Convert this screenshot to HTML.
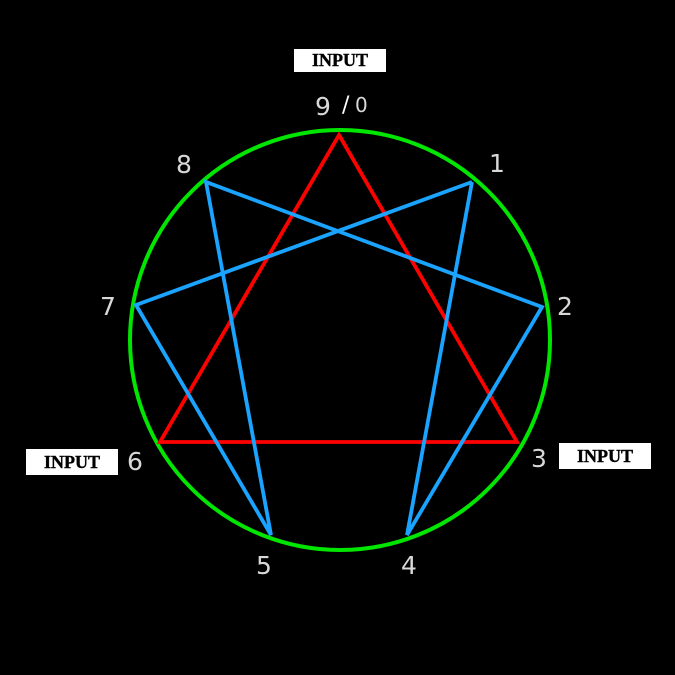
<!DOCTYPE html>
<html><head><meta charset="utf-8"><style>html,body{margin:0;padding:0;background:#000;}svg{display:block}</style></head>
<body>
<svg width="675" height="675" viewBox="0 0 675 675" xmlns="http://www.w3.org/2000/svg">
<rect width="675" height="675" fill="#000"/>
<circle cx="340" cy="340" r="210" fill="none" stroke="#00e600" stroke-width="4"/>
<polygon points="339,135 517,442 160,442" fill="none" stroke="#ff0000" stroke-width="3.8" stroke-linejoin="miter"/>
<polyline points="472,182 407,535 542,307 206,182 271,535 136,305 472,182" fill="none" stroke="#1aa3ff" stroke-width="3.8" stroke-linejoin="miter"/>
<g font-family="'DejaVu Sans','Liberation Sans',sans-serif" font-size="25" fill="#d8d8d8">
<text x="315" y="115">9</text>
<text x="342" y="112" fill="#fff" font-size="22">/</text>
<text x="355" y="112" font-size="20">0</text>
<text x="176" y="173">8</text>
<text x="489" y="172">1</text>
<text x="100" y="315">7</text>
<text x="557" y="315">2</text>
<text x="127" y="470">6</text>
<text x="531" y="467">3</text>
<text x="256" y="574">5</text>
<text x="401" y="574">4</text>
</g>
<rect x="294" y="49" width="92" height="23" fill="#fff"/>
<rect x="26" y="449" width="92" height="26" fill="#fff"/>
<rect x="559" y="443" width="92" height="26" fill="#fff"/>
<g font-family="'Liberation Serif',serif" font-weight="bold" font-size="18" fill="#000" stroke="#000" stroke-width="0.4" text-anchor="middle">
<text x="340" y="66">INPUT</text>
<text x="72" y="468">INPUT</text>
<text x="605" y="462">INPUT</text>
</g>
</svg>
</body></html>
